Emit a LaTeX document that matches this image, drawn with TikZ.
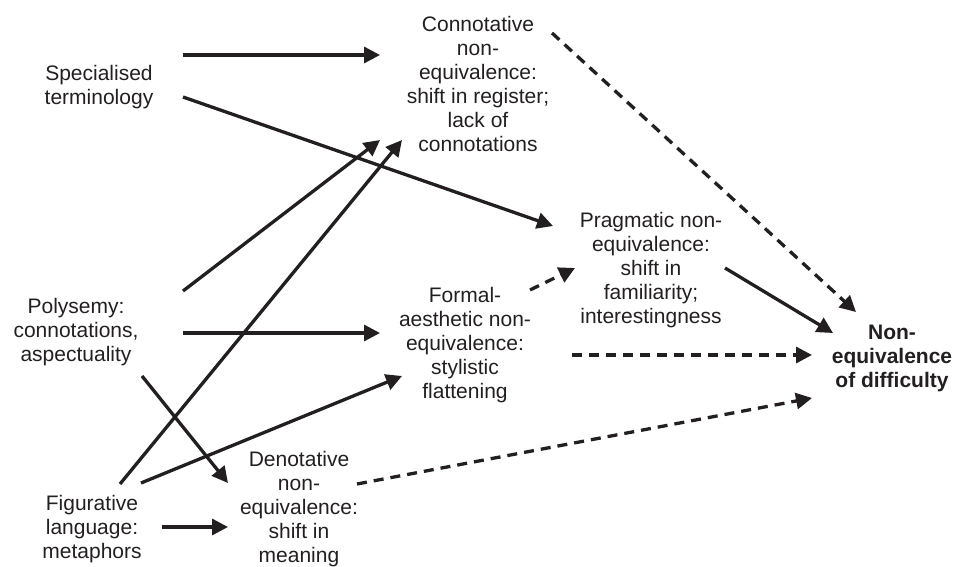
\documentclass[tikz,border=0pt]{standalone}
\usepackage{fontspec}
\setmainfont{Liberation Sans}
\usetikzlibrary{arrows.meta}
\definecolor{ink}{RGB}{35,31,32}
\begin{document}
\begin{tikzpicture}[x=1pt,y=-1pt,
  lbl/.style={align=center,inner sep=0pt,text=ink,font=\fontsize{21}{24}\selectfont},
  link/.style={draw=ink,line width=3.3pt,-{Triangle[length=16pt,width=16pt]}},
  dlink/.style={link,dash pattern=on 10pt off 7pt}]
\useasboundingbox (0,0) rectangle (955,567);

% source factors
\node[lbl] (spec) at (99,87) {Specialised\\terminology};
\node[lbl] (poly) at (76,332) {Polysemy:\\connotations,\\aspectuality};
\node[lbl] (fig)  at (92,529) {Figurative\\language:\\metaphors};

% kinds of non-equivalence
\node[lbl] (conn) at (478,84) {Connotative\\non-\\equivalence:\\shift in register;\\lack of\\connotations};
\node[lbl] (form) at (465,345) {Formal-\\aesthetic non-\\equivalence:\\stylistic\\flattening};
\node[lbl] (prag) at (651,270) {Pragmatic non-\\equivalence:\\shift in\\familiarity;\\interestingness};
\node[lbl] (deno) at (299,509) {Denotative\\non-\\equivalence:\\shift in\\meaning};

% outcome
\node[lbl,font=\fontsize{21}{24}\selectfont\bfseries] (neq) at (892,358) {Non-\\equivalence\\of difficulty};

% solid links
\draw[link] ([shift={(84,-32)}]spec.center) -- ([shift={(-98,-29)}]conn.center);
\draw[link] ([shift={(84,10)}]spec.center) -- ([shift={(-98,-44)}]prag.center);
\draw[link] ([shift={(107,-41)}]poly.center) -- ([shift={(-98,56)}]conn.center);
\draw[link] ([shift={(28,-45)}]fig.center) -- ([shift={(-76,56)}]conn.center);
\draw[link] ([shift={(107,1)}]poly.center) -- ([shift={(-85,-12)}]form.center);
\draw[link] ([shift={(66,44)}]poly.center) -- ([shift={(-71,-26)}]deno.center);
\draw[link] ([shift={(49,-46)}]fig.center) -- ([shift={(-63,31)}]form.center);
\draw[link] ([shift={(70,-2)}]fig.center) -- ([shift={(-71,18)}]deno.center);
\draw[link] ([shift={(74,-2)}]prag.center) -- ([shift={(-59,-25)}]neq.center);

% dashed links
\draw[dlink] ([shift={(58,-25)}]deno.center) -- ([shift={(-80,40)}]neq.center);
\draw[dlink] ([shift={(107,10)}]form.center) -- ([shift={(-80,-3)}]neq.center);
\draw[dlink] ([shift={(65,-55)}]form.center) -- ([shift={(-76,-2)}]prag.center);
\draw[dlink] ([shift={(74,-51)}]conn.center) -- ([shift={(-36,-46)}]neq.center);
\end{tikzpicture}
\end{document}
